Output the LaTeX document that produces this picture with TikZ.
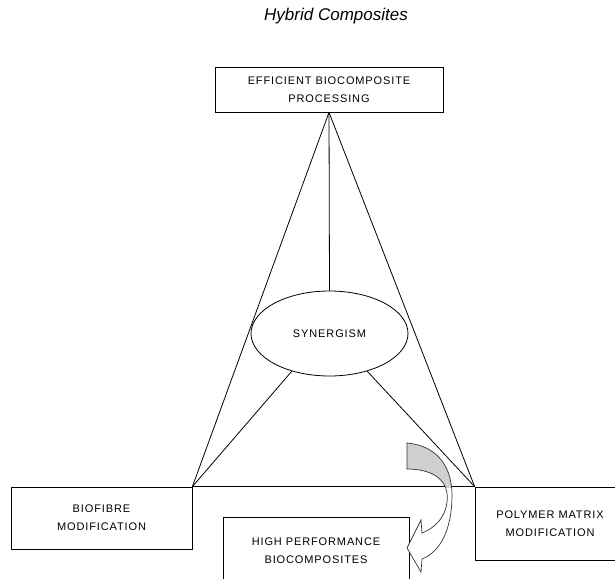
\documentclass[tikz,border=0pt]{standalone}
\usepackage{fontspec}
\setmainfont{Liberation Sans}
\newfontfamily\boxfont[LetterSpace=8]{Liberation Sans}
\usetikzlibrary{shapes.geometric}
\definecolor{arrowgray}{HTML}{D0D0D0}
\begin{document}
\begin{tikzpicture}[x=1pt,y=-1pt,
  ln/.style={line width=0.8pt,black},
  box/.style={draw,line width=0.8pt,rectangle,inner sep=0pt,align=center,
    font=\boxfont\fontsize{11}{18}\selectfont},
]
\useasboundingbox (0,0) rectangle (615,578);
% title
\node[font=\itshape\fontsize{17}{20}\selectfont] (title) at (336,16) {Hybrid Composites};
% boxes
\node[box,minimum width=228pt,minimum height=45pt] (top) at (329,89.5) {EFFICIENT BIOCOMPOSITE\\PROCESSING};
\node[box,minimum width=181pt,minimum height=62pt] (left) at (101.5,518) {BIOFIBRE\\MODIFICATION};
\node[box,minimum width=150pt,minimum height=73pt] (right) at (550,523.5) {POLYMER MATRIX\\MODIFICATION};
\node[box,minimum width=186pt,minimum height=68pt] (bottom) at (316,551) {HIGH PERFORMANCE\\BIOCOMPOSITES};
% ellipse
\node[ellipse,draw,line width=0.8pt,minimum width=157pt,minimum height=85pt,inner sep=0pt,
  font=\boxfont\fontsize{11}{18}\selectfont] (syn) at (329.5,333.5) {SYNERGISM};
% connectors
\draw[ln] (top.south) -- (left.north east);
\draw[ln] (top.south) -- (right.north west);
\draw[ln] (top.south) -- (syn.north);
\draw[ln] (syn.225) -- (left.north east);
\draw[ln] (syn.-45) -- (right.north west);
\draw[ln] (left.north east) -- (right.north west);
% curved block arrow
\def\arrowpath{(407,443) .. controls (440,446) and (452,470) .. (452,495)
  .. controls (452,530) and (440,552) .. (422,559)
  -- (421,572) -- (407,548) -- (421,520) -- (422,533)
  .. controls (440,526) and (449,510) .. (447,493)
  .. controls (445,478) and (430,469) .. (407,469) -- cycle}
\fill[white] \arrowpath;
\begin{scope}
  \clip (380,430) rectangle (470,487);
  \fill[arrowgray] \arrowpath;
\end{scope}
\draw[line width=0.7pt,black!80] \arrowpath;
\end{tikzpicture}
\end{document}
